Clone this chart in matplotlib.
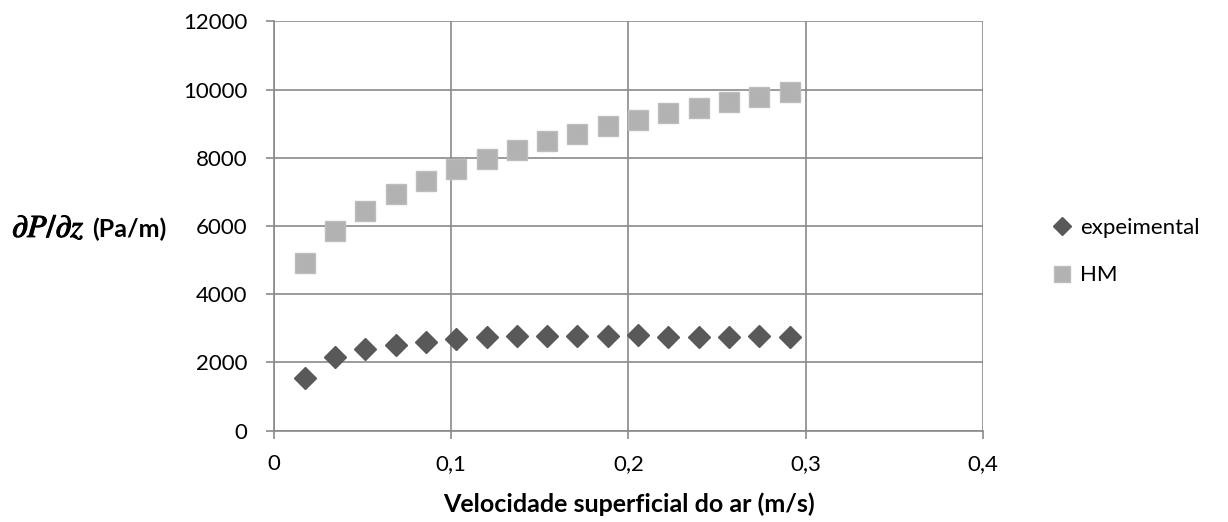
import matplotlib.pyplot as plt
import matplotlib.patheffects as pe

# velocidade superficial (m/s) e gradiente de pressão (Pa/m)
velocidade = [0.0173, 0.0344, 0.0515, 0.0686, 0.0857, 0.1028, 0.1199, 0.1370, 0.1541,
              0.1712, 0.1883, 0.2054, 0.2225, 0.2396, 0.2567, 0.2738, 0.2909]
experimental = [1540, 2150, 2400, 2505, 2610, 2700, 2740, 2770, 2770,
                2770, 2780, 2800, 2750, 2750, 2740, 2770, 2760]
hm = [4910, 5840, 6450, 6940, 7330, 7680, 7970, 8230, 8490,
      8710, 8930, 9110, 9300, 9460, 9630, 9790, 9940]

x_ticks = [0, 0.1, 0.2, 0.3, 0.4]
x_labels = ['0', '0,1', '0,2', '0,3', '0,4']
y_ticks = [0, 2000, 4000, 6000, 8000, 10000, 12000]

plt.rcParams['font.family'] = ['Lato', 'DejaVu Sans']
plt.rcParams['mathtext.fontset'] = 'stix'

fig = plt.figure(figsize=(12.28, 5.22), dpi=100)
ax = fig.add_axes([0.2231, 0.175, 0.5774, 0.784])

ax.plot(velocidade, experimental, linestyle='none', marker='D', markersize=10.7,
        color='#595959', markeredgecolor='#595959', label='expeimental', zorder=3)
ax.plot(velocidade, hm, linestyle='none', marker='s', markersize=14.2,
        color='#b2b2b2', markeredgecolor='#bdbdbd', label='HM', zorder=3)

ax.set_xlim(0, 0.4)
ax.set_ylim(0, 12000)
ax.set_xticks(x_ticks)
ax.set_xticklabels(x_labels)
ax.set_yticks(y_ticks)
ax.grid(True, color='#8a8a8a', linewidth=1.2)
ax.set_axisbelow(True)
for side in ['top', 'right']:
    ax.spines[side].set_visible(False)
for side in ['left', 'bottom']:
    ax.spines[side].set_color('#8a8a8a')
    ax.spines[side].set_linewidth(1.2)
ax.tick_params(axis='both', colors='#8a8a8a', labelcolor='black',
               labelsize=16, length=6, width=1.2)
ax.tick_params(axis='y', pad=13)
ax.tick_params(axis='x', pad=11)

# títulos dos eixos centrados na área do gráfico
fig.text(0.5122, 0.0192, 'Velocidade superficial do ar (m/s)', ha='center', va='baseline',
         fontsize=18, fontweight='bold')
dpdz = fig.text(0.0098, 0.546, r'$\partial P/\partial z$', ha='left', va='baseline',
                fontsize=23)
dpdz.set_path_effects([pe.withStroke(linewidth=0.8, foreground='black')])
fig.text(0.0749, 0.546, '(Pa/m)', ha='left', va='baseline', fontsize=18, fontweight='bold')

fig.legend(loc='center left', bbox_to_anchor=(0.8575, 0.518), frameon=False,
           fontsize=16, handletextpad=0.4, labelspacing=1.25, handlelength=0.8,
           borderpad=0, borderaxespad=0, markerscale=0.83)

fig.savefig('out.png', dpi=100)
